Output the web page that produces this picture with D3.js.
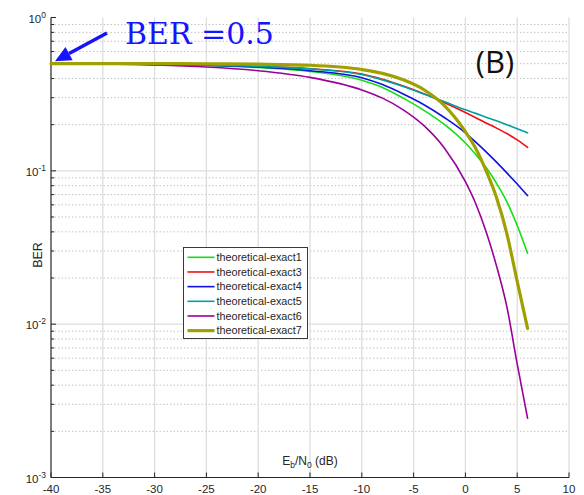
<!DOCTYPE html>
<html>
<head>
<meta charset="utf-8">
<script src="https://cdn.jsdelivr.net/npm/d3@7"></script>
<style>
  html, body { margin: 0; padding: 0; background: #fff; }
  svg { display: block; }
  text { font-family: "Liberation Sans", Arial, sans-serif; fill: #262626; }
</style>
</head>
<body>
<svg id="chart" width="584" height="495"></svg>
<script>
// ---- data ----
const ebn0 = [-40, -35, -30, -25, -20, -15, -10, -8, -6, -4, -2, 0, 1, 2, 3, 4, 5, 6];
const exact1 = [0.5, 0.498, 0.494, 0.487, 0.472, 0.445, 0.39, 0.35, 0.298, 0.248, 0.2, 0.152, 0.128, 0.105, 0.083, 0.063, 0.044, 0.029];
const exact3 = [0.5, 0.498, 0.495, 0.49, 0.48, 0.463, 0.428, 0.395, 0.357, 0.318, 0.278, 0.24, 0.222, 0.205, 0.19, 0.175, 0.159, 0.142];
const exact4 = [0.5, 0.498, 0.494, 0.488, 0.475, 0.45, 0.405, 0.365, 0.317, 0.27, 0.222, 0.177, 0.154, 0.133, 0.114, 0.097, 0.082, 0.069];
const exact5 = [0.5, 0.498, 0.495, 0.49, 0.48, 0.462, 0.425, 0.392, 0.355, 0.317, 0.282, 0.25, 0.237, 0.224, 0.212, 0.2, 0.188, 0.177];
const exact6 = [0.5, 0.497, 0.49, 0.476, 0.45, 0.407, 0.337, 0.298, 0.25, 0.197, 0.14, 0.085, 0.061, 0.04, 0.024, 0.013, 0.0055, 0.00244];
const exact7 = [0.5, 0.5, 0.5, 0.499, 0.496, 0.488, 0.458, 0.432, 0.392, 0.338, 0.265, 0.18, 0.14, 0.1, 0.067, 0.039, 0.019, 0.0094];
const seriesNames = ["theoretical-exact1", "theoretical-exact3", "theoretical-exact4", "theoretical-exact5", "theoretical-exact6", "theoretical-exact7"];
const xTicks = [-40, -35, -30, -25, -20, -15, -10, -5, 0, 5, 10];
const yTickExps = [0, -1, -2, -3];
const xLabel = "E_b/N_0 (dB)";
const yLabel = "BER";
const annotation = "BER =0.5";
const panelTag = "(B)";

// ---- styles ----
const colors = ["#12e012", "#f01010", "#1010e0", "#00a0a0", "#9a009a", "#a0a000"];
const widths = [1.6, 1.6, 1.6, 1.6, 1.6, 3.2];

const svg = d3.select("#chart");
const L = 51, R = 569, T = 17.5, B = 477.5;
const x = d3.scaleLinear().domain([-40, 10]).range([L, R]);
const y = d3.scaleLog().domain([1e-3, 1]).range([B, T]);

// grid: minor horizontal (dotted)
const minor = [];
for (let e = -3; e < 0; e++) for (let m = 2; m <= 9; m++) minor.push(m * Math.pow(10, e));
svg.append("g").selectAll("line").data(minor).join("line")
  .attr("x1", L).attr("x2", R).attr("y1", d => y(d)).attr("y2", d => y(d))
  .attr("stroke", "#c4c4c4").attr("stroke-width", 1).attr("stroke-dasharray", "1.5,2");
// major horizontal
svg.append("g").selectAll("line").data(yTickExps.filter(e => e > -3 && e < 0)).join("line")
  .attr("x1", L).attr("x2", R).attr("y1", d => y(Math.pow(10, d))).attr("y2", d => y(Math.pow(10, d)))
  .attr("stroke", "#dedede").attr("stroke-width", 1.3);
// vertical grid
svg.append("g").selectAll("line").data(xTicks.slice(1)).join("line")
  .attr("x1", d => x(d)).attr("x2", d => x(d)).attr("y1", T).attr("y2", B)
  .attr("stroke", "#dedede").attr("stroke-width", 1.3);

// axes lines
svg.append("line").attr("x1", L).attr("x2", L).attr("y1", T).attr("y2", B).attr("stroke", "#262626").attr("stroke-width", 1.2);
svg.append("line").attr("x1", L).attr("x2", R).attr("y1", B).attr("y2", B).attr("stroke", "#262626").attr("stroke-width", 1.2);

// y ticks
svg.append("g").selectAll("line").data(yTickExps).join("line")
  .attr("x1", L).attr("x2", L + 5).attr("y1", d => y(Math.pow(10, d))).attr("y2", d => y(Math.pow(10, d)))
  .attr("stroke", "#262626");
svg.append("g").selectAll("line").data(minor).join("line")
  .attr("x1", L).attr("x2", L + 3).attr("y1", d => y(d)).attr("y2", d => y(d))
  .attr("stroke", "#262626");
// x ticks
svg.append("g").selectAll("line").data(xTicks).join("line")
  .attr("x1", d => x(d)).attr("x2", d => x(d)).attr("y1", B).attr("y2", B - 5)
  .attr("stroke", "#262626");

// y tick labels
const yl = svg.append("g").selectAll("text").data(yTickExps).join("text")
  .attr("x", 46).attr("y", d => y(Math.pow(10, d)) + 5)
  .attr("text-anchor", "end").attr("font-size", 11.5);
yl.append("tspan").text("10");
yl.append("tspan").attr("font-size", 8.5).attr("dy", -5).text(d => d === 0 ? "0" : "-" + (-d));

// x tick labels
svg.append("g").selectAll("text").data(xTicks).join("text")
  .attr("x", d => x(d)).attr("y", 493).attr("text-anchor", "middle").attr("font-size", 11.5)
  .text(d => d);

// x label with subscripts
const xl = svg.append("text").attr("x", x(-15)).attr("y", 465).attr("text-anchor", "middle").attr("font-size", 12);
xl.append("tspan").text("E");
xl.append("tspan").attr("font-size", 8.5).attr("dy", 3).text("b");
xl.append("tspan").attr("dy", -3).text("/N");
xl.append("tspan").attr("font-size", 8.5).attr("dy", 3).text("0");
xl.append("tspan").attr("dy", -3).text(" (dB)");

// y label
svg.append("text").attr("transform", "translate(42,255) rotate(-90)")
  .attr("text-anchor", "middle").attr("font-size", 12.5).text(yLabel);

// curves
const allSeries = [exact1, exact3, exact4, exact5, exact6, exact7];
const line = d3.line().x((d, i) => x(ebn0[i])).y(d => y(d)).curve(d3.curveMonotoneX);
svg.append("g").attr("fill", "none").selectAll("path").data(allSeries).join("path")
  .attr("d", d => line(d))
  .attr("stroke", (d, i) => colors[i]).attr("stroke-width", (d, i) => widths[i])
  .attr("stroke-linejoin", "round").attr("stroke-linecap", "round");

// legend
const lg = svg.append("g");
lg.append("rect").attr("x", 183.5).attr("y", 247.5).attr("width", 124).attr("height", 91)
  .attr("fill", "#fff").attr("stroke", "#3a3a3a").attr("stroke-width", 1);
seriesNames.forEach((name, i) => {
  const yy = 257.3 + i * 14.67;
  lg.append("line").attr("x1", 187.5).attr("x2", 214.5).attr("y1", yy).attr("y2", yy)
    .attr("stroke", colors[i]).attr("stroke-width", widths[i]);
  lg.append("text").attr("x", 216.5).attr("y", yy + 3.8).attr("font-size", 10.8).attr("fill", "#111").text(name);
});

// annotation
svg.append("text").attr("x", 125).attr("y", 43.5)
  .style("font-family", "'DejaVu Serif', serif").attr("font-size", 30).style("fill", "#1414ff")
  .text(annotation);
const tip = [x(-40) + 4, y(0.5) - 2.5];
const start = [107, 33];
const dx = start[0] - tip[0], dy = start[1] - tip[1];
const len = Math.hypot(dx, dy);
const ux = dx / len, uy = dy / len;
const hl = 16, hw = 7.5;
const bx = tip[0] + ux * hl, by = tip[1] + uy * hl;
svg.append("line").attr("x1", start[0]).attr("y1", start[1]).attr("x2", bx).attr("y2", by)
  .attr("stroke", "#1414ff").attr("stroke-width", 3.5);
svg.append("path")
  .attr("d", `M${tip[0]},${tip[1]}L${bx - uy * hw},${by + ux * hw}L${bx + uy * hw},${by - ux * hw}Z`)
  .attr("fill", "#1414ff");

// panel tag
svg.append("text").attr("x", 495).attr("y", 73).attr("text-anchor", "middle")
  .style("font-family", "'Open Sans', sans-serif").attr("font-size", 31).style("fill", "#111")
  .text(panelTag);
</script>
</body>
</html>
